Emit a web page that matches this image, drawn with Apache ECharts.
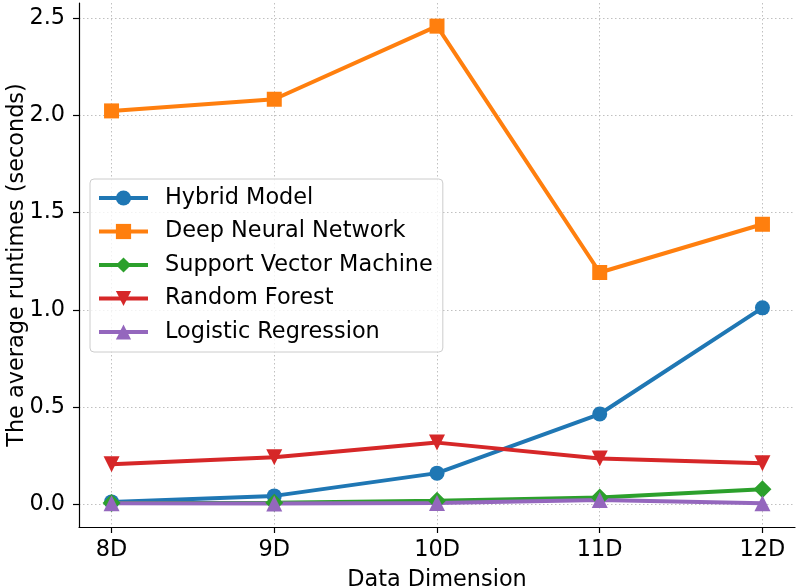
<!DOCTYPE html>
<html>
<head>
<meta charset="utf-8">
<script src="https://cdn.jsdelivr.net/npm/echarts@6/dist/echarts.min.js"></script>
<style>html,body{margin:0;padding:0;background:#fff}#c{width:800px;height:588px}</style>
</head>
<body>
<div id="c"></div>
<script>
const categories = ['8D', '9D', '10D', '11D', '12D'];
const hybridModel = [0.012, 0.043, 0.160, 0.464, 1.010];
const deepNeuralNetwork = [2.023, 2.083, 2.459, 1.192, 1.440];
const supportVectorMachine = [0.006, 0.008, 0.018, 0.035, 0.077];
const randomForest = [0.206, 0.242, 0.317, 0.235, 0.211];
const logisticRegression = [0.005, 0.004, 0.006, 0.022, 0.005];
const yTicks = [0, 0.5, 1.0, 1.5, 2.0, 2.5];

const FONT = 'DejaVu Sans';
const FS = 22.4;
const xIdx = categories.map((c, i) => i);

function mk(name, data, color, symbol, size, rotate) {
  return {
    name: name,
    type: 'line',
    data: data.map((v, i) => [i, v]),
    symbol: symbol,
    symbolSize: size,
    symbolRotate: rotate || 0,
    showAllSymbol: true,
    lineStyle: { color: color, width: 4 },
    itemStyle: { color: color, borderWidth: 0 },
    emphasis: { disabled: true },
    animation: false
  };
}

const chart = echarts.init(document.getElementById('c'), null, { renderer: 'canvas' });
chart.setOption({
  animation: false,
  grid: { left: 79, right: 5, top: 3, bottom: 61, containLabel: false, outerBoundsMode: 'none' },
  xAxis: {
    type: 'value',
    min: -0.2,
    max: 4.2,
    name: 'Data Dimension',
    nameLocation: 'middle',
    nameGap: 42,
    nameMoveOverlap: false,
    nameTextStyle: { fontFamily: FONT, fontSize: FS, color: '#000' },
    axisLine: { show: true, onZero: false, lineStyle: { color: '#000', width: 1.2 } },
    axisTick: { show: true, length: 6, lineStyle: { color: '#000', width: 1.2 }, customValues: xIdx },
    axisLabel: {
      customValues: xIdx,
      formatter: v => categories[Math.round(v)],
      fontFamily: FONT, fontSize: FS, color: '#000', margin: 12
    },
    splitLine: { show: true, lineStyle: { color: '#b0b0b0', width: 0.8, type: [1.5, 2.5] } }
  },
  yAxis: {
    type: 'value',
    min: -0.117,
    max: 2.578,
    name: 'The average runtimes (seconds)',
    nameLocation: 'middle',
    nameGap: 51,
    nameMoveOverlap: false,
    nameTextStyle: { fontFamily: FONT, fontSize: FS, color: '#000' },
    axisLine: { show: true, onZero: false, lineStyle: { color: '#000', width: 1.2 } },
    axisTick: { show: true, length: 6, lineStyle: { color: '#000', width: 1.2 }, customValues: yTicks },
    axisLabel: {
      customValues: yTicks,
      formatter: v => v.toFixed(1),
      fontFamily: FONT, fontSize: FS, color: '#000', margin: 14
    },
    splitLine: { show: true, lineStyle: { color: '#b0b0b0', width: 0.8, type: [1.5, 2.5] } }
  },
  legend: {
    orient: 'vertical',
    left: 90,
    top: 179,
    padding: [7, 10, 8, 7],
    backgroundColor: 'rgba(255,255,255,0.8)',
    borderColor: '#cccccc',
    borderWidth: 1,
    borderRadius: 4,
    itemWidth: 49,
    itemHeight: 19,
    itemGap: 9.5,
    lineStyle: { width: 4 },
    textStyle: { fontFamily: FONT, fontSize: FS, color: '#000', lineHeight: 24, padding: [0, 0, 0, 12] },
    data: ['Hybrid Model', 'Deep Neural Network', 'Support Vector Machine', 'Random Forest', 'Logistic Regression']
  },
  series: [
    mk('Hybrid Model', hybridModel, '#1f77b4', 'circle', 15),
    mk('Deep Neural Network', deepNeuralNetwork, '#ff7f0e', 'rect', 15),
    mk('Support Vector Machine', supportVectorMachine, '#2ca02c', 'diamond', 18),
    mk('Random Forest', randomForest, '#d62728', 'triangle', 16, 180),
    mk('Logistic Regression', logisticRegression, '#9467bd', 'triangle', 16)
  ]
});
</script>
</body>
</html>
